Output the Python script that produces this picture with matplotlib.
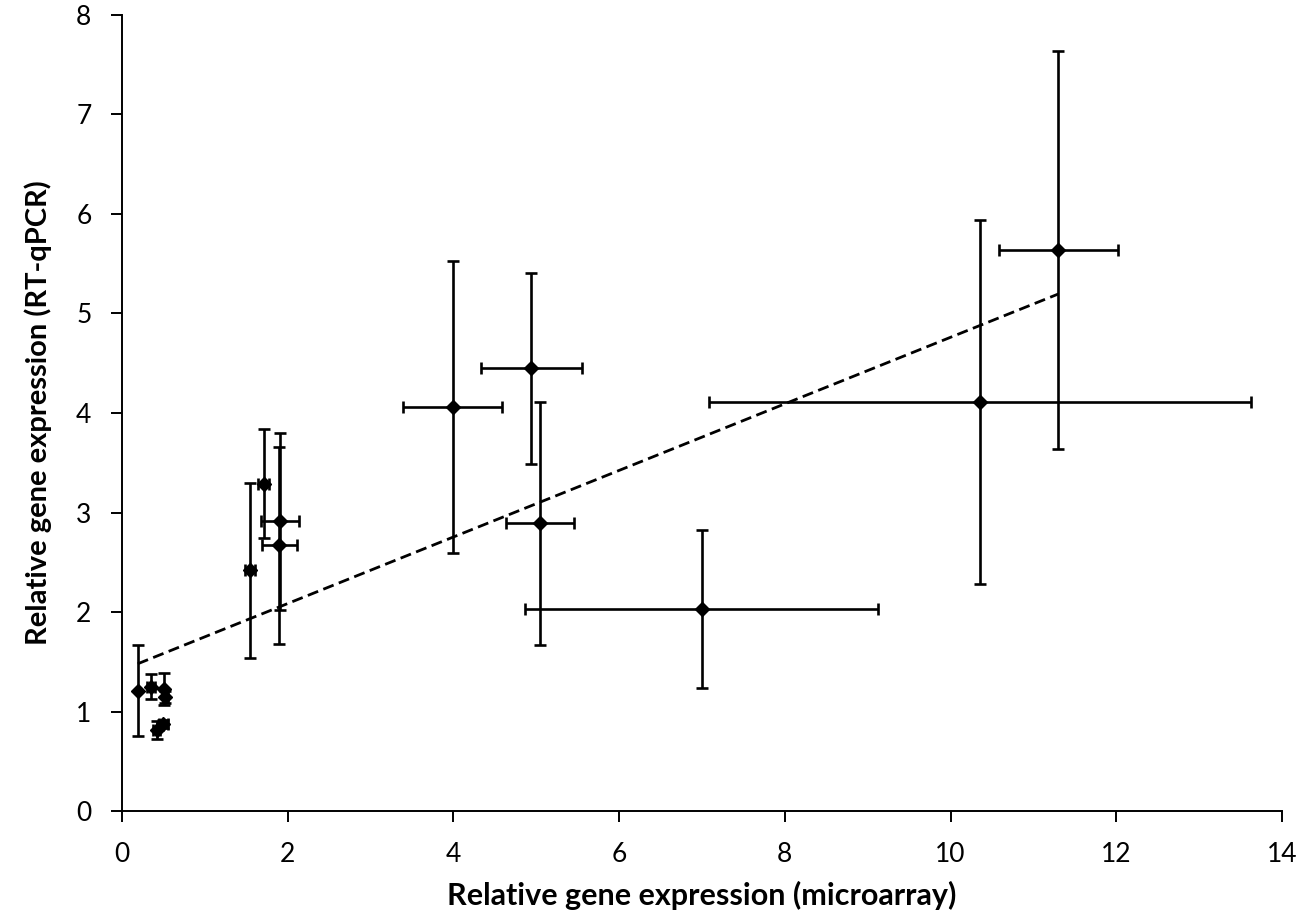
import numpy as np
import matplotlib
matplotlib.use("Agg")
import matplotlib.pyplot as plt

plt.rcParams['font.family'] = ['Lato', 'DejaVu Sans']

# --------------------------------------------------------------
# data (microarray vs RT-qPCR)
# --------------------------------------------------------------
micro = [0.19, 0.35, 0.51, 0.52, 0.42, 0.50, 1.55, 1.71, 1.91, 1.90,
         3.99, 4.94, 5.04, 7.00, 10.36, 11.30]
qpcr = [1.21, 1.25, 1.23, 1.15, 0.81, 0.87, 2.42, 3.29, 2.91, 2.67,
        4.06, 4.45, 2.89, 2.03, 4.11, 5.64]
micro_err = [0.0, 0.05, 0.0, 0.03, 0.04, 0.05, 0.06, 0.07, 0.23, 0.21,
             0.60, 0.61, 0.41, 2.13, 3.27, 0.72]
qpcr_err = [0.46, 0.125, 0.16, 0.06, 0.09, 0.04, 0.88, 0.55, 0.89, 0.99,
            1.47, 0.96, 1.22, 0.79, 1.83, 2.0]

# linear trend line as shown (Excel trendline)
trend_slope = 0.3345
trend_intercept = 1.416

fig = plt.figure(figsize=(13.03, 9.19), dpi=100)
ax = fig.add_axes([0.0936, 0.1175, 0.8903, 0.8662])

ax.errorbar(micro, qpcr, xerr=micro_err, yerr=qpcr_err,
            fmt='D', color='black', ecolor='black', markersize=7.5,
            elinewidth=1.9, capsize=4, capthick=1.9, zorder=3)

xt = np.array([min(micro), max(micro)])
ax.plot(xt, trend_intercept + trend_slope * xt, linestyle=(0, (4, 2)),
        color='black', linewidth=2.0, zorder=2)

ax.set_xlim(0, 14)
ax.set_ylim(0, 8)
ax.set_xticks(range(0, 15, 2))
ax.set_yticks(range(0, 9))

for side in ['top', 'right']:
    ax.spines[side].set_visible(False)
for side in ['left', 'bottom']:
    ax.spines[side].set_linewidth(1.4)

ax.tick_params(axis='both', direction='out', length=8, width=1.4,
               labelsize=19, pad=14)

ax.set_xlabel('Relative gene expression (microarray)', fontsize=22,
              fontweight='bold', labelpad=10)
ax.set_ylabel('Relative gene expression (RT-qPCR)', fontsize=21,
              fontweight='bold', labelpad=17)

fig.savefig('out.png', dpi=100)
